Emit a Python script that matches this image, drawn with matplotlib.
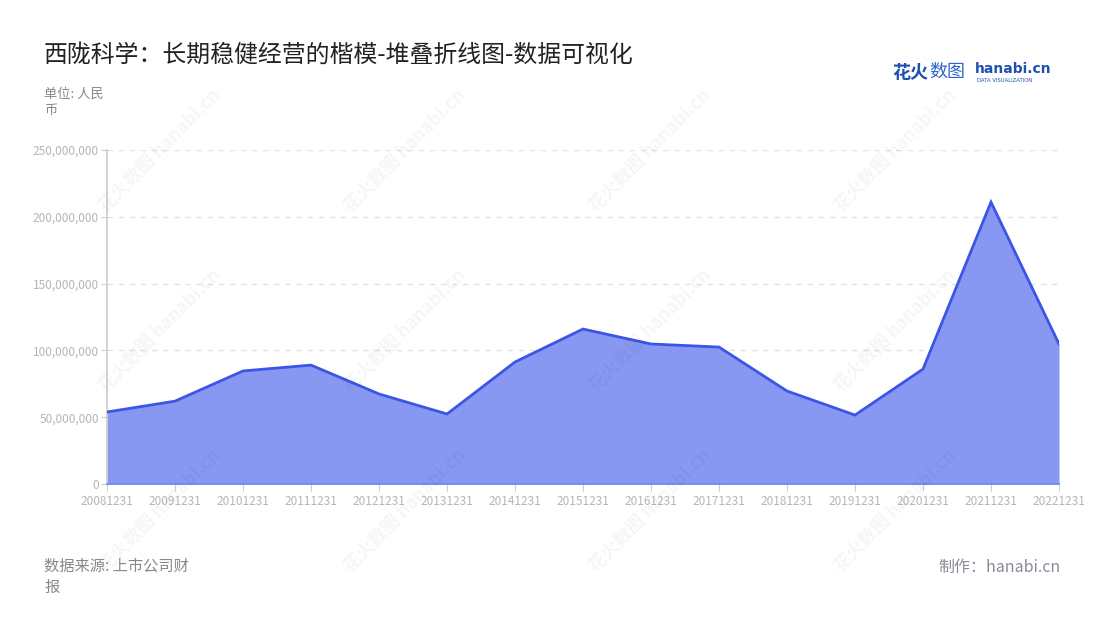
import matplotlib
matplotlib.use("Agg")
import matplotlib.pyplot as plt
from matplotlib.ticker import FuncFormatter, MultipleLocator

plt.rcParams['font.family'] = ['Noto Sans CJK SC', 'DejaVu Sans']

periods = ["20081231", "20091231", "20101231", "20111231", "20121231", "20131231",
           "20141231", "20151231", "20161231", "20171231", "20181231", "20191231",
           "20201231", "20211231", "20221231"]
values = [53.9e6, 62.0e6, 84.6e6, 89.0e6, 67.4e6, 52.4e6, 91.3e6, 116.0e6,
          104.8e6, 102.5e6, 69.6e6, 51.6e6, 86.0e6, 211.0e6, 104.8e6]

title = "西陇科学：长期稳健经营的楷模-堆叠折线图-数据可视化"
unit_label = "单位: 人民\n币"
source_label = "数据来源: 上市公司财\n报"
credit_label = "制作：hanabi.cn"

W, H = 1100, 620
fig = plt.figure(figsize=(W / 100, H / 100), dpi=100)
ax = fig.add_axes([107 / W, (H - 484) / H, (1059 - 107) / W, (484 - 150) / H])

x = list(range(len(periods)))
ax.fill_between(x, values, 0, color="#8898f2", linewidth=0, zorder=2)
ax.plot(x, values, color="#3b55e6", linewidth=2.0, zorder=3, solid_joinstyle="miter")

ax.set_xlim(0, len(periods) - 1)
ax.set_ylim(0, 250e6)
ax.yaxis.set_major_locator(MultipleLocator(50e6))
ax.yaxis.set_major_formatter(FuncFormatter(lambda v, p: f"{int(v):,}"))
ax.set_xticks(x)
ax.set_xticklabels(periods)

ax.grid(axis="y", color="#e3e3e3", linestyle=(0, (4, 4)), linewidth=1, zorder=0)
ax.set_axisbelow(True)
for s in ["top", "right"]:
    ax.spines[s].set_visible(False)
ax.spines["left"].set_color("#cccccc")
ax.spines["left"].set_linewidth(1.2)
ax.spines["bottom"].set_color("#6f86ee")
ax.spines["bottom"].set_linewidth(1.2)
ax.spines["bottom"].set_zorder(4)

ax.tick_params(axis="y", length=4, color="#cccccc", labelcolor="#b4b4bc", labelsize=8.5, pad=2)
ax.tick_params(axis="x", length=5, color="#cccccc", labelcolor="#b4b4bc", labelsize=8.5, pad=3)

# watermarks
for wx in [160, 405, 650, 895]:
    for wy in [150, 330, 510]:
        fig.text(wx / W, 1 - wy / H, "花火数图 hanabi.cn", rotation=45, fontsize=13,
                 color="#000000", alpha=0.04, ha="center", va="center", fontweight="bold")

fig.text(44 / W, 1 - 55 / H, title, fontsize=17.2, color="#222222", ha="left", va="center")
fig.text(44 / W, 1 - 88 / H, unit_label, fontsize=9.5, color="#888888", ha="left", va="top",
         linespacing=1.3)
fig.text(44 / W, 1 - 558 / H, source_label, fontsize=11, color="#888888", ha="left", va="top",
         linespacing=1.3)
fig.text(1061 / W, 1 - 567 / H, credit_label, fontsize=11.5, color="#8a8a9a", ha="right",
         va="center")

# logo
fig.text(892 / W, 1 - 72 / H, "花火", fontsize=13, color="#1f4fb0", fontweight="bold",
         ha="left", va="center")
fig.text(929 / W, 1 - 72 / H, "数图", fontsize=13, color="#2f66cc", ha="left", va="center")
fig.text(975 / W, 1 - 69 / H, "hanabi.cn", fontsize=10, color="#1f4fb0", fontweight="bold",
         ha="left", va="center", family=["DejaVu Sans"])
fig.text(977 / W, 1 - 80 / H, "DATA VISUALIZATION", fontsize=3.8, color="#1f4fb0",
         ha="left", va="center", family=["DejaVu Sans"])

fig.savefig("out.png", dpi=100, facecolor="white")
